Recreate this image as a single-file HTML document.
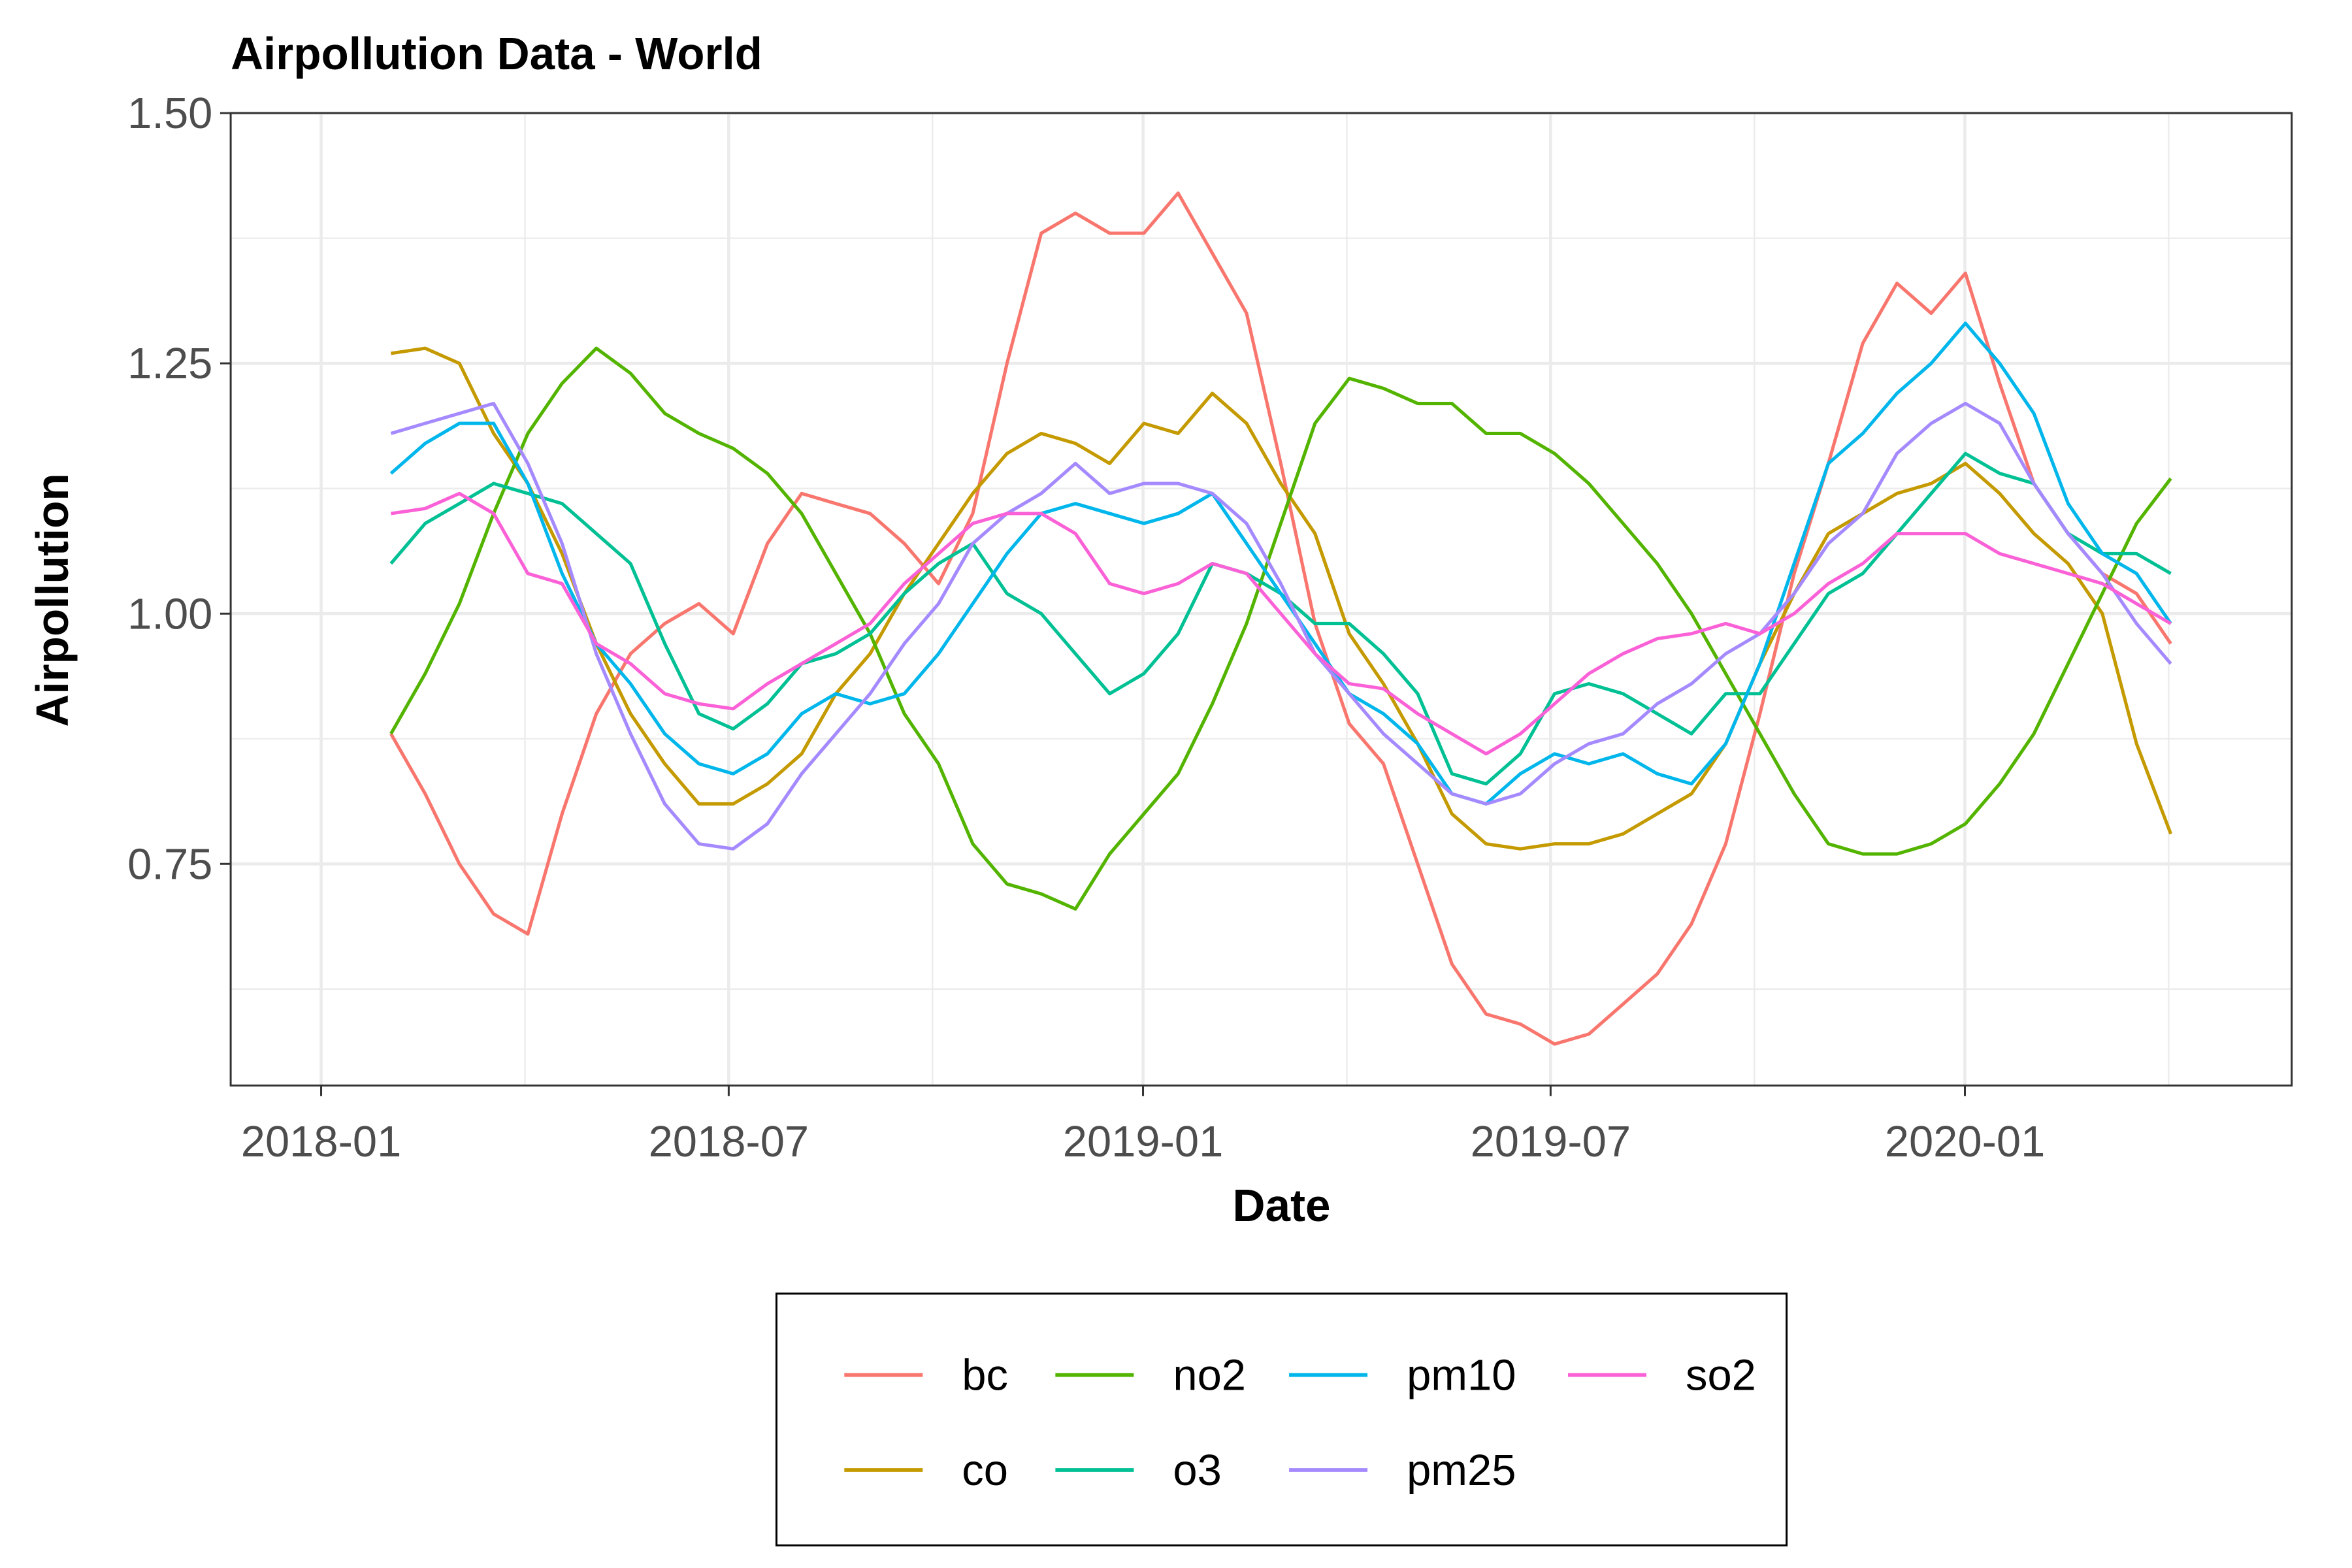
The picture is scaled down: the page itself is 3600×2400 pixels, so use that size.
<!DOCTYPE html>
<html><head><meta charset="utf-8"><style>
html,body{margin:0;padding:0;background:#fff}
svg{display:block}
text{font-family:"Liberation Sans",Arial,sans-serif}
</style></head><body>
<svg id="chart" width="3600" height="2400" viewBox="0 0 1560 1040" xmlns="http://www.w3.org/2000/svg">
<rect width="1560" height="1040" fill="#fff"/>
<g id="grid"></g>
<g id="series"></g>
<rect x="153" y="75" width="1367" height="645" fill="none" stroke="#333" stroke-width="1.3"/>
<g id="axes"></g>
<text x="153" y="46" font-size="30" font-weight="bold" fill="#000">Airpollution Data - World</text>
<text x="850" y="810" font-size="30" font-weight="bold" text-anchor="middle">Date</text>
<text transform="translate(45,398) rotate(-90)" font-size="30" font-weight="bold" text-anchor="middle">Airpollution</text>
<g id="legend">
<rect x="515" y="858" width="670" height="167" fill="#fff" stroke="#000" stroke-width="1.3"/>
</g>
</svg>
<script>
const names = ["bc","co","no2","o3","pm10","pm25","so2"];
const colors = ["#F8766D","#C49A00","#53B400","#00C094","#00B6EB","#A58AFF","#FB61D7"];
const startDay = 31, stepDays = 15.2;
const bc = [0.88,0.82,0.75,0.70,0.68,0.80,0.90,0.96,0.99,1.01,0.98,1.07,1.12,1.11,1.10,1.07,1.03,1.10,1.25,1.38,1.40,1.38,1.38,1.42,1.36,1.30,1.15,0.99,0.89,0.85,0.75,0.65,0.60,0.59,0.57,0.58,0.61,0.64,0.69,0.77,0.90,1.04,1.15,1.27,1.33,1.30,1.34,1.23,1.13,1.08,1.04,1.02,0.97];
const co = [1.26,1.265,1.25,1.18,1.13,1.06,0.97,0.90,0.85,0.81,0.81,0.83,0.86,0.92,0.96,1.02,1.07,1.12,1.16,1.18,1.17,1.15,1.19,1.18,1.22,1.19,1.13,1.08,0.98,0.93,0.87,0.80,0.77,0.765,0.77,0.77,0.78,0.80,0.82,0.87,0.95,1.02,1.08,1.10,1.12,1.13,1.15,1.12,1.08,1.05,1.00,0.87,0.78];
const no2 = [0.88,0.94,1.01,1.10,1.18,1.23,1.265,1.24,1.20,1.18,1.165,1.14,1.10,1.04,0.98,0.90,0.85,0.77,0.73,0.72,0.705,0.76,0.80,0.84,0.91,0.99,1.09,1.19,1.235,1.225,1.21,1.21,1.18,1.18,1.16,1.13,1.09,1.05,1.00,0.94,0.88,0.82,0.77,0.76,0.76,0.77,0.79,0.83,0.88,0.95,1.02,1.09,1.135];
const o3 = [1.05,1.09,1.11,1.13,1.12,1.11,1.08,1.05,0.97,0.90,0.885,0.91,0.95,0.96,0.98,1.02,1.05,1.07,1.02,1.00,0.96,0.92,0.94,0.98,1.05,1.04,1.02,0.99,0.99,0.96,0.92,0.84,0.83,0.86,0.92,0.93,0.92,0.90,0.88,0.92,0.92,0.97,1.02,1.04,1.08,1.12,1.16,1.14,1.13,1.08,1.06,1.06,1.04];
const pm10 = [1.14,1.17,1.19,1.19,1.13,1.04,0.97,0.93,0.88,0.85,0.84,0.86,0.90,0.92,0.91,0.92,0.96,1.01,1.06,1.10,1.11,1.10,1.09,1.10,1.12,1.07,1.02,0.97,0.92,0.90,0.87,0.82,0.81,0.84,0.86,0.85,0.86,0.84,0.83,0.87,0.95,1.05,1.15,1.18,1.22,1.25,1.29,1.25,1.20,1.11,1.06,1.04,0.99];
const pm25 = [1.18,1.19,1.20,1.21,1.15,1.07,0.96,0.88,0.81,0.77,0.765,0.79,0.84,0.88,0.92,0.97,1.01,1.07,1.10,1.12,1.15,1.12,1.13,1.13,1.12,1.09,1.03,0.96,0.92,0.88,0.85,0.82,0.81,0.82,0.85,0.87,0.88,0.91,0.93,0.96,0.98,1.02,1.07,1.10,1.16,1.19,1.21,1.19,1.13,1.08,1.04,0.99,0.95];
const so2 = [1.10,1.105,1.12,1.10,1.04,1.03,0.97,0.95,0.92,0.91,0.905,0.93,0.95,0.97,0.99,1.03,1.06,1.09,1.10,1.10,1.08,1.03,1.02,1.03,1.05,1.04,1.00,0.96,0.93,0.925,0.90,0.88,0.86,0.88,0.91,0.94,0.96,0.975,0.98,0.99,0.98,1.00,1.03,1.05,1.08,1.08,1.08,1.06,1.05,1.04,1.03,1.01,0.99];
const yTicks = [0.75,1.00,1.25,1.50];
const yTickLabels = ["0.75","1.00","1.25","1.50"];
const xTickDays = [0,181,365,546,730];
const xTickLabels = ["2018-01","2018-07","2019-01","2019-07","2020-01"];
const seriesData = [bc,co,no2,o3,pm10,pm25,so2];

const NS="http://www.w3.org/2000/svg";
function xs(day){return 213 + day*1.4935;}
function ys(v){return 407 - (v-1.0)*664;}
function mk(tag,attrs,parent){const e=document.createElementNS(NS,tag);for(const k in attrs)e.setAttribute(k,attrs[k]);parent.appendChild(e);return e;}
const grid=document.getElementById('grid'), axes=document.getElementById('axes'), ser=document.getElementById('series');
for(let i=0;i<yTicks.length;i++){
  const mv=yTicks[i]-0.125;
  const l=mk('line',{x1:153,x2:1520,y1:ys(mv),y2:ys(mv),stroke:'#ebebeb','stroke-width':1},grid);
  
  
}
for(let i=0;i<xTickDays.length;i++){
  const md=xTickDays[i]+90.5;
  const l=mk('line',{x1:xs(md),x2:xs(md),y1:75,y2:720,stroke:'#ebebeb','stroke-width':1},grid);
  
  
}
yTicks.forEach((v,i)=>{
  const l=mk('line',{x1:153,x2:1520,y1:ys(v),y2:ys(v),stroke:'#ebebeb','stroke-width':2},grid);
  
  
  const t=mk('line',{x1:146,x2:153,y1:ys(v),y2:ys(v),stroke:'#333','stroke-width':1.3},axes);
  
  
  const tx=mk('text',{x:141,y:ys(v)+10,'font-size':29,fill:'#4d4d4d','text-anchor':'end'},axes);
  tx.textContent=yTickLabels[i];
  
  
});
xTickDays.forEach((d,i)=>{
  const l=mk('line',{x1:xs(d),x2:xs(d),y1:75,y2:720,stroke:'#ebebeb','stroke-width':2},grid);
  
  
  const t=mk('line',{x1:xs(d),x2:xs(d),y1:720,y2:727,stroke:'#333','stroke-width':1.3},axes);
  
  
  const tx=mk('text',{x:xs(d),y:767,'font-size':29,fill:'#4d4d4d','text-anchor':'middle'},axes);
  tx.textContent=xTickLabels[i];
  
  
});
seriesData.forEach((arr,s)=>{
  const pts=arr.map((v,i)=>xs(startDay+i*stepDays).toFixed(1)+','+ys(v).toFixed(1)).join(' ');
  const p=mk('polyline',{points:pts,fill:'none',stroke:colors[s],'stroke-width':2.2,'stroke-linejoin':'round'},ser);
  
  
});
const leg=document.getElementById('legend');
const lx=[560,700,855,1040], lyRow=[912,975];
names.forEach((n,i)=>{
  const col=Math.floor(i/2), row=i%2;
  const x=lx[col], y=lyRow[row];
  const l=mk('line',{x1:x,x2:x+52,y1:y,y2:y,stroke:colors[i],'stroke-width':2.5},leg);
  
  
  const t=mk('text',{x:x+78,y:y+10,'font-size':29,fill:'#000'},leg);
  t.textContent=n;
  
  
});
</script>
</body></html>
